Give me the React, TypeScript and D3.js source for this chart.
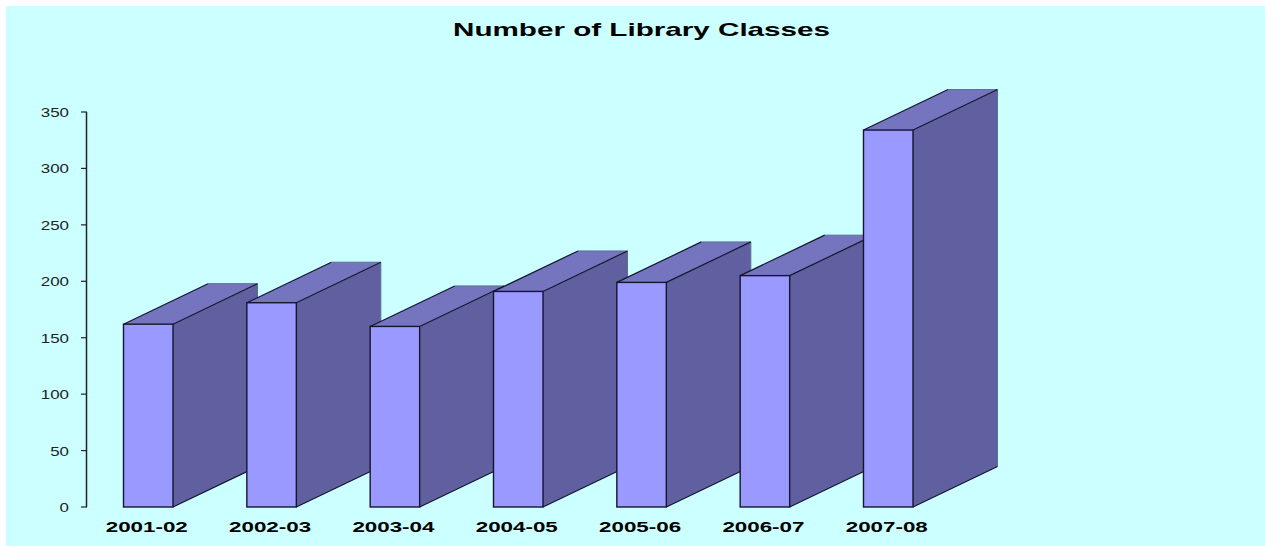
import React from "react";
import * as d3 from "d3";

const categories = ["2001-02", "2002-03", "2003-04", "2004-05", "2005-06", "2006-07", "2007-08"];
const classCounts = [162, 181, 160, 191, 199, 205, 334];
const yTicks = [0, 50, 100, 150, 200, 250, 300, 350];
const titleText = "Number of Library Classes";

const W = 1265;
const H = 546;
const barWidth = 49.5;
const depthX = 84.5;
const depthY = 40.5;
const sans = "'Liberation Sans', Arial, sans-serif";
const edge = "#15152e";
const faint = "#5a6f96";

const x = d3.scalePoint<string>().domain(categories).range([123.5, 863.5]);
const y = d3.scaleLinear().domain([0, 350]).range([507, 112]);
const line = d3.line();

export default function App() {
  return (
    <svg width={W} height={H} style={{ position: "absolute", left: 0, top: 0, display: "block", background: "#fff" }}>
      <rect x={6} y={6} width={W - 6} height={H - 6} fill="#CCFFFF" />
      <text x={641.5} y={36} textAnchor="middle" fontFamily={sans} fontWeight="bold" fontSize={18.5}
        textLength={377} lengthAdjust="spacingAndGlyphs" fill="#000">{titleText}</text>

      <line x1={86.5} x2={86.5} y1={y(350)} y2={y(0)} stroke="#222" strokeWidth={1.5} />
      {yTicks.map((t) => (
        <g key={t}>
          <line x1={81} x2={87} y1={y(t)} y2={y(t)} stroke="#222" strokeWidth={1.2} />
          <text x={69} y={y(t) + 5} textAnchor="end" fontFamily={sans} fontSize={13.5}
            textLength={String(t).length * 9.4} lengthAdjust="spacingAndGlyphs" fill="#222">{t}</text>
        </g>
      ))}

      {categories.map((c, i) => {
        const x0 = x(c)!;
        const x1 = x0 + barWidth;
        const top = y(classCounts[i]);
        const base = y(0);
        return (
          <g key={c}>
            <path d={line([[x1, top], [x1 + depthX, top - depthY], [x1 + depthX, base - depthY], [x1, base]])! + "Z"} fill="#6060A0" />
            <path d={line([[x0, top], [x0 + depthX, top - depthY], [x1 + depthX, top - depthY], [x1, top]])! + "Z"} fill="#7575BF" />
            <path d={line([[x0 + depthX, top - depthY], [x1 + depthX, top - depthY], [x1 + depthX, base - depthY]])!} fill="none" stroke={faint} strokeWidth={1} />
            <path d={line([[x0, top], [x0 + depthX, top - depthY]])!} stroke={edge} strokeWidth={1.2} fill="none" />
            <path d={line([[x1, top], [x1 + depthX, top - depthY]])!} stroke={edge} strokeWidth={1.2} fill="none" />
            <path d={line([[x1, base], [x1 + depthX, base - depthY]])!} stroke={edge} strokeWidth={1.2} fill="none" />
            <rect x={x0} y={top} width={barWidth} height={base - top} fill="#9999FF" stroke={edge} strokeWidth={1.4} />
            <text x={x0 + barWidth / 2 - 1.5} y={532} textAnchor="middle" fontFamily={sans} fontWeight="bold" fontSize={14}
              textLength={82} lengthAdjust="spacingAndGlyphs" fill="#000">{c}</text>
          </g>
        );
      })}
    </svg>
  );
}
